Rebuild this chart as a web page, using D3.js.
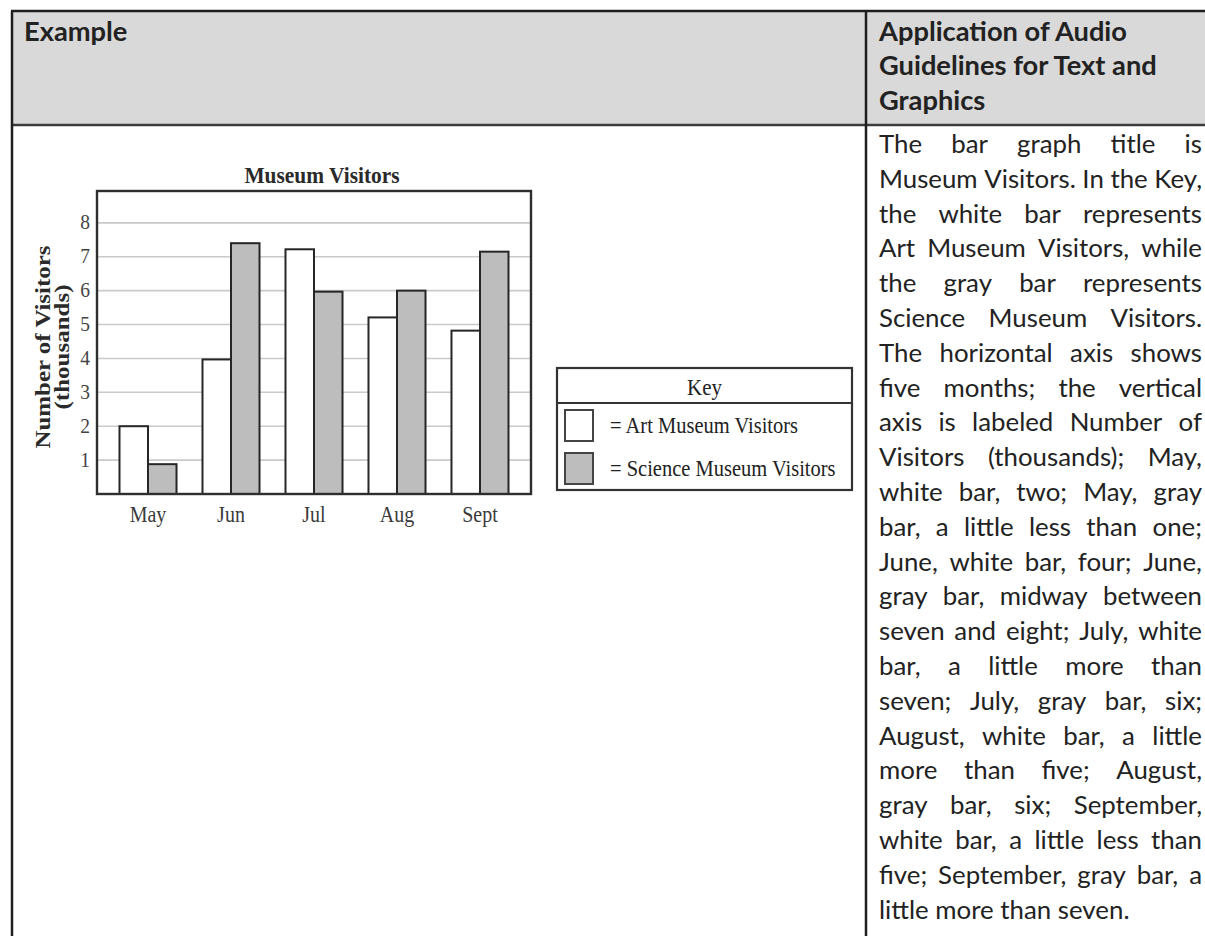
<!DOCTYPE html>
<html>
<head>
<meta charset="utf-8">
<script src="https://cdnjs.cloudflare.com/ajax/libs/d3/7.8.5/d3.min.js"></script>
<style>
  html, body { margin: 0; padding: 0; background: #fff; overflow: hidden; }
  svg { display: block; }
</style>
</head>
<body>
<script>
// bar chart values (thousands of visitors)
const months = ['May', 'Jun', 'Jul', 'Aug', 'Sept'];
const artVisitors = [2.0, 3.97, 7.22, 5.21, 4.82];
const scienceVisitors = [0.88, 7.4, 5.97, 6.0, 7.15];
const yTicks = [1, 2, 3, 4, 5, 6, 7, 8];
const seriesNames = ['Art Museum Visitors', 'Science Museum Visitors'];
const seriesFills = ['#ffffff', '#bdbdbd'];

// table text
const headLeft = 'Example';
const headRight = ['Application of Audio', 'Guidelines for Text and', 'Graphics'];
const bodyLines = [
  'The bar graph title is',
  'Museum Visitors. In the Key,',
  'the white bar represents',
  'Art Museum Visitors, while',
  'the gray bar represents',
  'Science Museum Visitors.',
  'The horizontal axis shows',
  'five months; the vertical',
  'axis is labeled Number of',
  'Visitors (thousands); May,',
  'white bar, two; May, gray',
  'bar, a little less than one;',
  'June, white bar, four; June,',
  'gray bar, midway between',
  'seven and eight; July, white',
  'bar, a little more than',
  'seven; July, gray bar, six;',
  'August, white bar, a little',
  'more than five; August,',
  'gray bar, six; September,',
  'white bar, a little less than',
  'five; September, gray bar, a',
  'little more than seven.'
];

const W = 1205, H = 936;
const tbl = { left: 12, top: 11, headBottom: 125, divider: 866 };
const textX = 879, textW = 323;
const sans = 'Lato, "Open Sans", sans-serif';
const serif = '"Liberation Serif", "DejaVu Serif", serif';
const vStretch = 1.12; // the scanned figure is a bit taller than wide

const svg = d3.select('body').append('svg').attr('width', W).attr('height', H);

// ---------- table frame ----------
svg.append('rect')
  .attr('x', tbl.left).attr('y', tbl.top)
  .attr('width', W + 20 - tbl.left).attr('height', tbl.headBottom - tbl.top)
  .attr('fill', '#d9d9d9');

const rule = (x1, y1, x2, y2, c, w) => svg.append('line')
  .attr('x1', x1).attr('y1', y1).attr('x2', x2).attr('y2', y2)
  .attr('stroke', c).attr('stroke-width', w);

rule(tbl.left - 1, tbl.top, W + 5, tbl.top, '#1e1e1e', 2.5);
rule(tbl.left, tbl.headBottom, W + 5, tbl.headBottom, '#3c3c3c', 2.5);
rule(tbl.left, tbl.top, tbl.left, H + 5, '#1e1e1e', 2.5);
rule(tbl.divider, tbl.top, tbl.divider, H + 5, '#1e1e1e', 2.5);

// measuring helper
const probe = svg.append('text').attr('x', -999).attr('y', -999);
const measure = (str, size, weight) => {
  probe.attr('font-family', sans).attr('font-size', size).attr('font-weight', weight).text(str);
  return probe.node().getComputedTextLength();
};

// header text, sized so "Application of Audio" spans ~248px
const headSize = 100 * 248 / measure(headRight[0], 100, 700);
const headPitch = 34.8;
svg.append('text')
  .attr('x', 24).attr('y', 40.5)
  .attr('font-family', sans).attr('font-weight', 700).attr('font-size', headSize)
  .attr('fill', '#222')
  .text(headLeft);

svg.append('g').selectAll('text')
  .data(headRight)
  .join('text')
  .attr('x', textX)
  .attr('y', (d, i) => 40.5 + i * headPitch)
  .attr('font-family', sans).attr('font-weight', 700).attr('font-size', headSize)
  .attr('fill', '#222')
  .text(d => d);

// body text, justified line by line
let bodySize = 100 * 267 / measure(bodyLines[bodyLines.length - 1], 100, 400);
const naturalW = (line, s) => {
  const words = line.split(' ');
  return d3.sum(words, w => measure(w, s, 400)) + (words.length - 1) * (measure('a a', s, 400) - measure('aa', s, 400));
};
const widest = d3.max(bodyLines, l => naturalW(l, bodySize));
if (widest > textW) bodySize *= textW / widest;

const spaceW = measure('a a', bodySize, 400) - measure('aa', bodySize, 400);
const bodyG = svg.append('g')
  .attr('font-family', sans).attr('font-size', bodySize).attr('fill', '#222');

bodyLines.forEach((line, i) => {
  const words = line.split(' ');
  const widths = words.map(w => measure(w, bodySize, 400));
  const isLast = i === bodyLines.length - 1;
  const gap = isLast ? spaceW : (textW - d3.sum(widths)) / (words.length - 1);
  const t = bodyG.append('text').attr('y', 153 + i * 34.8);
  let x = textX;
  words.forEach((w, j) => {
    t.append('tspan').attr('x', x).text(j < words.length - 1 ? w + ' ' : w);
    x += widths[j] + gap;
  });
});
probe.remove();

// ---------- bar chart ----------
const plot = { left: 97, right: 531, top: 191, bottom: 494 };

const x = d3.scaleBand()
  .domain(months)
  .range([plot.left, plot.right])
  .paddingInner(0.313)
  .paddingOuter(0.271);

const xSub = d3.scaleBand()
  .domain(d3.range(seriesNames.length))
  .range([0, x.bandwidth()]);

const y = d3.scaleLinear()
  .domain([0, 8.94])
  .range([plot.bottom, plot.top]);

const chart = svg.append('g');

// gridlines
chart.append('g').selectAll('line')
  .data(yTicks)
  .join('line')
  .attr('x1', plot.left).attr('x2', plot.right)
  .attr('y1', d => y(d)).attr('y2', d => y(d))
  .attr('stroke', '#cacaca').attr('stroke-width', 1.6);

// bars
const barData = months.flatMap((m, i) => [
  { month: m, s: 0, v: artVisitors[i] },
  { month: m, s: 1, v: scienceVisitors[i] }
]);

chart.append('g').selectAll('rect')
  .data(barData)
  .join('rect')
  .attr('x', d => x(d.month) + xSub(d.s))
  .attr('y', d => y(d.v))
  .attr('width', xSub.bandwidth())
  .attr('height', d => y(0) - y(d.v))
  .attr('fill', d => seriesFills[d.s])
  .attr('stroke', '#262626')
  .attr('stroke-width', 2);

// frame
chart.append('rect')
  .attr('x', plot.left).attr('y', plot.top)
  .attr('width', plot.right - plot.left).attr('height', plot.bottom - plot.top)
  .attr('fill', 'none').attr('stroke', '#2e2e2e').attr('stroke-width', 2.4);

// y axis labels
const yAxis = chart.append('g')
  .attr('transform', `translate(${plot.left},0)`)
  .call(d3.axisLeft(y).tickValues(yTicks).tickSize(0).tickPadding(7).tickFormat(d3.format('d')));
yAxis.select('.domain').remove();
yAxis.selectAll('text')
  .attr('font-family', serif).attr('font-size', 19.5).attr('fill', '#444')
  .attr('dy', '0.28em')
  .attr('transform', `scale(1,${vStretch})`);

// x axis labels
const xAxis = chart.append('g')
  .attr('transform', `translate(0,${plot.bottom})`)
  .call(d3.axisBottom(x).tickSize(0).tickPadding(11));
xAxis.select('.domain').remove();
xAxis.selectAll('text')
  .attr('font-family', serif).attr('font-size', 20).attr('fill', '#3a3a3a')
  .attr('transform', `scale(1,${vStretch})`);

// title
chart.append('text')
  .attr('transform', `translate(322,183) scale(1,${vStretch})`)
  .attr('text-anchor', 'middle')
  .attr('font-family', serif).attr('font-weight', 700).attr('font-size', 21.4)
  .attr('fill', '#2a2a2a')
  .text('Museum Visitors');

// y axis title (two lines, rotated)
const yTitle = [
  { t: 'Number of Visitors', bx: 50, len: 203 },
  { t: '(thousands)', bx: 69, len: 125 }
];
chart.append('g').selectAll('text')
  .data(yTitle)
  .join('text')
  .attr('transform', d => `translate(${d.bx},347) rotate(-90)`)
  .attr('text-anchor', 'middle')
  .attr('font-family', serif).attr('font-weight', 700).attr('font-size', 22)
  .attr('textLength', d => d.len).attr('lengthAdjust', 'spacingAndGlyphs')
  .attr('fill', '#2a2a2a')
  .text(d => d.t);

// ---------- key ----------
const key = svg.append('g').attr('transform', 'translate(557,368)');
key.append('rect')
  .attr('width', 295).attr('height', 122)
  .attr('fill', '#fff').attr('stroke', '#333').attr('stroke-width', 2.2);
key.append('line')
  .attr('x1', 0).attr('x2', 295).attr('y1', 35).attr('y2', 35)
  .attr('stroke', '#333').attr('stroke-width', 2.2);
key.append('text')
  .attr('transform', `translate(147.5,27) scale(1,${vStretch})`)
  .attr('text-anchor', 'middle')
  .attr('font-family', serif).attr('font-size', 21)
  .attr('fill', '#222')
  .text('Key');

const keyRows = key.selectAll('g.row')
  .data(seriesNames)
  .join('g')
  .attr('class', 'row')
  .attr('transform', (d, i) => `translate(0,${42 + i * 43})`);
keyRows.append('rect')
  .attr('x', 8).attr('width', 28).attr('height', 31)
  .attr('fill', (d, i) => seriesFills[i])
  .attr('stroke', '#444').attr('stroke-width', 2);
keyRows.append('text')
  .attr('transform', `translate(53,23) scale(1,${vStretch})`)
  .attr('font-family', serif).attr('font-size', 20.5)
  .attr('fill', '#222')
  .text(d => '= ' + d);
</script>
</body>
</html>
